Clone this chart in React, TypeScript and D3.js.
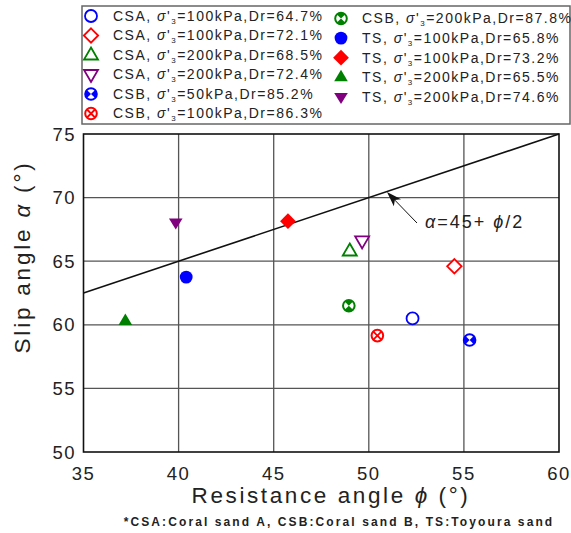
import React from "react";
import * as d3 from "d3";

const W = 571;
const H = 533;

// Data
const seriesLabels = [
  { mat: "CSA", s3: "100", dr: "64.7" },
  { mat: "CSA", s3: "100", dr: "72.1" },
  { mat: "CSA", s3: "200", dr: "68.5" },
  { mat: "CSA", s3: "200", dr: "72.4" },
  { mat: "CSB", s3: "50", dr: "85.2" },
  { mat: "CSB", s3: "100", dr: "86.3" },
  { mat: "CSB", s3: "200", dr: "87.8" },
  { mat: "TS", s3: "100", dr: "65.8" },
  { mat: "TS", s3: "100", dr: "73.2" },
  { mat: "TS", s3: "200", dr: "65.5" },
  { mat: "TS", s3: "200", dr: "74.6" },
];
const phiValues = [52.3, 54.5, 49.0, 49.65, 55.3, 50.45, 48.95, 40.4, 45.75, 37.2, 39.85];
const alphaValues = [60.5, 64.6, 65.8, 66.6, 58.8, 59.15, 61.5, 63.75, 68.15, 60.3, 68.05];
const markerKinds = [
  "circleOpen", "diamondOpen", "triUpOpen", "triDownOpen",
  "csbLR", "csbX", "csbTB",
  "circle", "diamond", "triUp", "triDown",
];
const markerColors = [
  "#0000ff", "#ff0000", "#008000", "#800080",
  "#0000ff", "#ff0000", "#008000",
  "#0000ff", "#ff0000", "#008000", "#800080",
];

const xTicks = [35, 40, 45, 50, 55, 60];
const yTicks = [50, 55, 60, 65, 70, 75];
const refLinePhi = [35, 60];
const refLineAlpha = [62.5, 75];

const FONT = "Arial, 'Liberation Sans', Helvetica, sans-serif";

const x = d3.scaleLinear().domain([35, 60]).range([83.5, 559]);
const y = d3.scaleLinear().domain([50, 75]).range([452, 134]);

function wedge(r: number, a1: number, a2: number) {
  const t1 = (a1 * Math.PI) / 180;
  const t2 = (a2 * Math.PI) / 180;
  return `M0,0L${r * Math.cos(t1)},${r * Math.sin(t1)}A${r},${r} 0 0 1 ${r * Math.cos(t2)},${r * Math.sin(t2)}Z`;
}

function Marker({ kind, color, cx, cy }: { kind: string; color: string; cx: number; cy: number }) {
  const t = `translate(${cx},${cy})`;
  switch (kind) {
    case "circleOpen":
      return <circle transform={t} r={6} fill="white" stroke={color} strokeWidth={1.8} />;
    case "circle":
      return <circle transform={t} r={6.4} fill={color} />;
    case "diamondOpen":
      return <path transform={t} d="M0,-7.2L7.2,0L0,7.2L-7.2,0Z" fill="white" stroke={color} strokeWidth={1.8} />;
    case "diamond":
      return <path transform={t} d="M0,-7.9L7.9,0L0,7.9L-7.9,0Z" fill={color} />;
    case "triUpOpen":
      return <path transform={t} d="M0,-7.5L7,4.5L-7,4.5Z" fill="white" stroke={color} strokeWidth={1.8} />;
    case "triUp":
      return <path transform={t} d="M0,-7.5L6.8,4L-6.8,4Z" fill={color} />;
    case "triDownOpen":
      return <path transform={t} d="M0,7.5L7,-4.5L-7,-4.5Z" fill="white" stroke={color} strokeWidth={1.8} />;
    case "triDown":
      return <path transform={t} d="M0,7L6.8,-4L-6.8,-4Z" fill={color} />;
    case "csbLR":
      return (
        <g transform={t}>
          <circle r={5.8} fill="white" stroke={color} strokeWidth={2} />
          <path d={wedge(5.8, 135, 225)} fill={color} />
          <path d={wedge(5.8, -45, 45)} fill={color} />
        </g>
      );
    case "csbTB":
      return (
        <g transform={t}>
          <circle r={5.8} fill="white" stroke={color} strokeWidth={2} />
          <path d={wedge(5.8, 225, 315)} fill={color} />
          <path d={wedge(5.8, 45, 135)} fill={color} />
        </g>
      );
    case "csbX":
      return (
        <g transform={t}>
          <circle r={5.8} fill="white" stroke={color} strokeWidth={2} />
          <path d="M-4,-4L4,4M-4,4L4,-4" stroke={color} strokeWidth={1.8} />
        </g>
      );
    default:
      return null;
  }
}

function LegendText({ x0, y0, mat, s3, dr }: { x0: number; y0: number; mat: string; s3: string; dr: string }) {
  return (
    <text x={x0} y={y0} dy="0.35em" fontFamily={FONT} fontSize={14} letterSpacing={1.5} fill="#222">
      <tspan>{mat}, </tspan>
      <tspan fontStyle="italic">σ</tspan>
      <tspan>'</tspan>
      <tspan fontSize={8} dy={3}>3</tspan>
      <tspan dy={-3}>={s3}kPa,Dr={dr}%</tspan>
    </text>
  );
}

export default function App() {
  const linePath = d3
    .line<number>()
    .x((_, i) => x(refLinePhi[i]))
    .y((_, i) => y(refLineAlpha[i]))(refLinePhi);

  const col1 = [0, 1, 2, 3, 4, 5];
  const col2 = [6, 7, 8, 9, 10];

  // Annotation arrow
  const tip = [387, 192];
  const tail = [417, 223];
  const ang = Math.atan2(tail[1] - tip[1], tail[0] - tip[0]);
  const headLen = 15;
  const headW = 5;
  const rot = (px: number, py: number) => [
    tip[0] + px * Math.cos(ang) - py * Math.sin(ang),
    tip[1] + px * Math.sin(ang) + py * Math.cos(ang),
  ];
  const hp = [rot(0, 0), rot(headLen, headW), rot(headLen * 0.75, 0), rot(headLen, -headW)];

  return (
    <svg
      width={W}
      height={H}
      style={{ position: "absolute", left: 0, top: 0, background: "white" }}
    >
      <rect width={W} height={H} fill="white" />
      {/* Legend */}
      <rect x={82} y={6} width={488} height={118} fill="white" stroke="#666" strokeWidth={1.5} />
      {col1.map((d, i) => (
        <g key={"l1" + d}>
          <Marker kind={markerKinds[d]} color={markerColors[d]} cx={91} cy={16 + i * 19.5} />
          <LegendText x0={113} y0={16 + i * 19.5} {...seriesLabels[d]} />
        </g>
      ))}
      {col2.map((d, i) => (
        <g key={"l2" + d}>
          <Marker kind={markerKinds[d]} color={markerColors[d]} cx={341} cy={18.5 + i * 19.6} />
          <LegendText x0={362} y0={18.5 + i * 19.6} {...seriesLabels[d]} />
        </g>
      ))}

      {/* Grid */}
      {xTicks.slice(1, -1).map((t) => (
        <line key={"gx" + t} x1={x(t)} x2={x(t)} y1={y(50)} y2={y(75)} stroke="#555" strokeWidth={1.3} />
      ))}
      {yTicks.slice(1, -1).map((t) => (
        <line key={"gy" + t} x1={x(35)} x2={x(60)} y1={y(t)} y2={y(t)} stroke="#555" strokeWidth={1.3} />
      ))}
      <rect x={x(35)} y={y(75)} width={x(60) - x(35)} height={y(50) - y(75)} fill="none" stroke="#111" strokeWidth={1.6} />

      {/* Reference line */}
      <path d={linePath || ""} fill="none" stroke="#111" strokeWidth={1.6} />

      {/* Annotation */}
      <line x1={tail[0]} y1={tail[1]} x2={hp[2][0]} y2={hp[2][1]} stroke="#111" strokeWidth={1} />
      <path d={`M${hp.map((p) => p.join(",")).join("L")}Z`} fill="#111" />
      <text x={425} y={228} fontFamily={FONT} fontSize={18} letterSpacing={2} fill="#222">
        <tspan fontStyle="italic">α</tspan>
        <tspan>=45+ </tspan>
        <tspan fontStyle="italic">ϕ</tspan>
        <tspan>/2</tspan>
      </text>

      {/* Data points */}
      {phiValues.map((p, i) => (
        <Marker key={"p" + i} kind={markerKinds[i]} color={markerColors[i]} cx={x(p)} cy={y(alphaValues[i])} />
      ))}

      {/* Axis tick labels */}
      {xTicks.map((t) => (
        <text key={"xt" + t} x={x(t)} y={480} textAnchor="middle" fontFamily={FONT} fontSize={18.5} letterSpacing={1.5} fill="#222">
          {t}
        </text>
      ))}
      {yTicks.map((t) => (
        <text key={"yt" + t} x={76} y={y(t)} dy="0.36em" textAnchor="end" fontFamily={FONT} fontSize={18.5} letterSpacing={1.5} fill="#222">
          {t}
        </text>
      ))}

      {/* Axis titles */}
      <text x={331} y={503} textAnchor="middle" fontFamily={FONT} fontSize={22.5} letterSpacing={2.6} fill="#222">
        Resistance angle <tspan fontStyle="italic">ϕ</tspan> (°)
      </text>
      <text
        transform={`translate(30,257) rotate(-90)`}
        textAnchor="middle"
        fontFamily={FONT}
        fontSize={22.5}
        letterSpacing={2.8}
        fill="#222"
      >
        Slip angle <tspan fontStyle="italic">α</tspan> (°)
      </text>

      {/* Footnote */}
      <text x={339} y={526} textAnchor="middle" fontFamily={FONT} fontSize={12} fontWeight="bold" letterSpacing={2.1} fill="#222">
        *CSA:Coral sand A, CSB:Coral sand B, TS:Toyoura sand
      </text>
    </svg>
  );
}
